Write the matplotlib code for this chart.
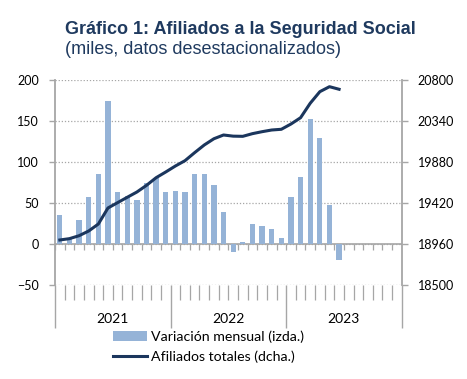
import matplotlib
matplotlib.use("Agg")
import matplotlib.pyplot as plt
from matplotlib.patches import Patch
from matplotlib.lines import Line2D
import numpy as np

# monthly data, Jan 2021 - Jun 2023 (thousands)
variacion = [35, 7, 29, 57, 85, 174, 63, 59, 54, 75, 81, 63,
             65, 64, 85, 85, 72, 39, -10, 2, 24, 22, 18, 7,
             57, 82, 152, 129, 48, -20]
afiliados = [19005, 19020, 19053, 19106, 19184, 19364, 19424, 19484, 19543, 19618,
             19704, 19768, 19835, 19895, 19985, 20071, 20141, 20183, 20170, 20168,
             20198, 20220, 20239, 20247, 20306, 20377, 20539, 20669, 20725, 20696]
years = ["2021", "2022", "2023"]
n_months = 36

bar_color = "#95B3D7"
line_color = "#1B365D"
grey = "#A6A6A6"
text_font = "Lato"

fig = plt.figure(figsize=(4.67, 3.79), dpi=100)
ax = fig.add_axes([55/467, 94/379, 346.7/467, 205/379])

x = np.arange(len(variacion))
ax.bar(x, variacion, width=0.55, color=bar_color, zorder=2)
ax.set_xlim(-0.5, n_months - 0.5)
ax.set_ylim(-50, 200)
ax.set_yticks(np.arange(-50, 201, 50))
ax.yaxis.grid(True, linestyle=(0, (1, 1.5)), color=grey, linewidth=0.9)
ax.set_axisbelow(True)
ax.axhline(0, color=grey, linewidth=1.2, zorder=1.5)
# small ticks on the zero line
ax.vlines(np.arange(n_months + 1) - 0.5, -7, 0, color=grey, linewidth=0.9, zorder=1.5)

for s in ["top", "bottom", "right"]:
    ax.spines[s].set_visible(False)
ax.spines["left"].set_color(grey)
ax.spines["left"].set_linewidth(1.3)

ax.set_xticks(np.arange(0, n_months + 1, 12) - 0.5)
ax.set_xticks(np.arange(n_months + 1) - 0.5, minor=True)
ax.tick_params(axis="x", which="major", length=31, width=1.0, color=grey, labelbottom=False)
ax.tick_params(axis="x", which="minor", length=11, width=0.9, color=grey)
ax.tick_params(axis="y", length=4.5, width=1.0, color=grey, labelsize=9, pad=7)
for lab in ax.get_yticklabels():
    lab.set_fontfamily(text_font)

for i, yr in enumerate(years):
    ax.text(i * 12 + 5.5, -0.165, yr, transform=ax.get_xaxis_transform(),
            ha="center", va="center", fontsize=10, family=text_font)

ax2 = ax.twinx()
ax2.plot(x, afiliados, color=line_color, linewidth=2.2, zorder=3)
ax2.set_ylim(18500, 20800)
ax2.set_yticks(np.arange(18500, 20801, 460))
for s in ["top", "bottom", "left"]:
    ax2.spines[s].set_visible(False)
ax2.spines["right"].set_color(grey)
ax2.spines["right"].set_linewidth(1.3)
ax2.tick_params(axis="y", length=4.5, width=1.0, color=grey, labelsize=9, pad=7)
for lab in ax2.get_yticklabels():
    lab.set_fontfamily(text_font)

fig.text(65/467, 1 - 33.5/379, "Gráfico 1: Afiliados a la Seguridad Social",
         fontsize=13, fontweight="bold", color="#1F3A5F", family="Liberation Sans")
fig.text(65/467, 1 - 53.5/379, "(miles, datos desestacionalizados)",
         fontsize=13, color="#1F3A5F", family="Liberation Sans")

handles = [Patch(facecolor=bar_color, edgecolor="none"),
           Line2D([], [], color=line_color, linewidth=2.2)]
fig.legend(handles, ["Variación mensual (izda.)", "Afiliados totales (dcha.)"],
           loc="upper left", bbox_to_anchor=(113/467, 1 - 330/379), frameon=False,
           prop={"family": text_font, "size": 10.2}, handlelength=2.4, handletextpad=0.3,
           labelspacing=0.55, borderpad=0, borderaxespad=0)

fig.savefig("out.png", dpi=100)
